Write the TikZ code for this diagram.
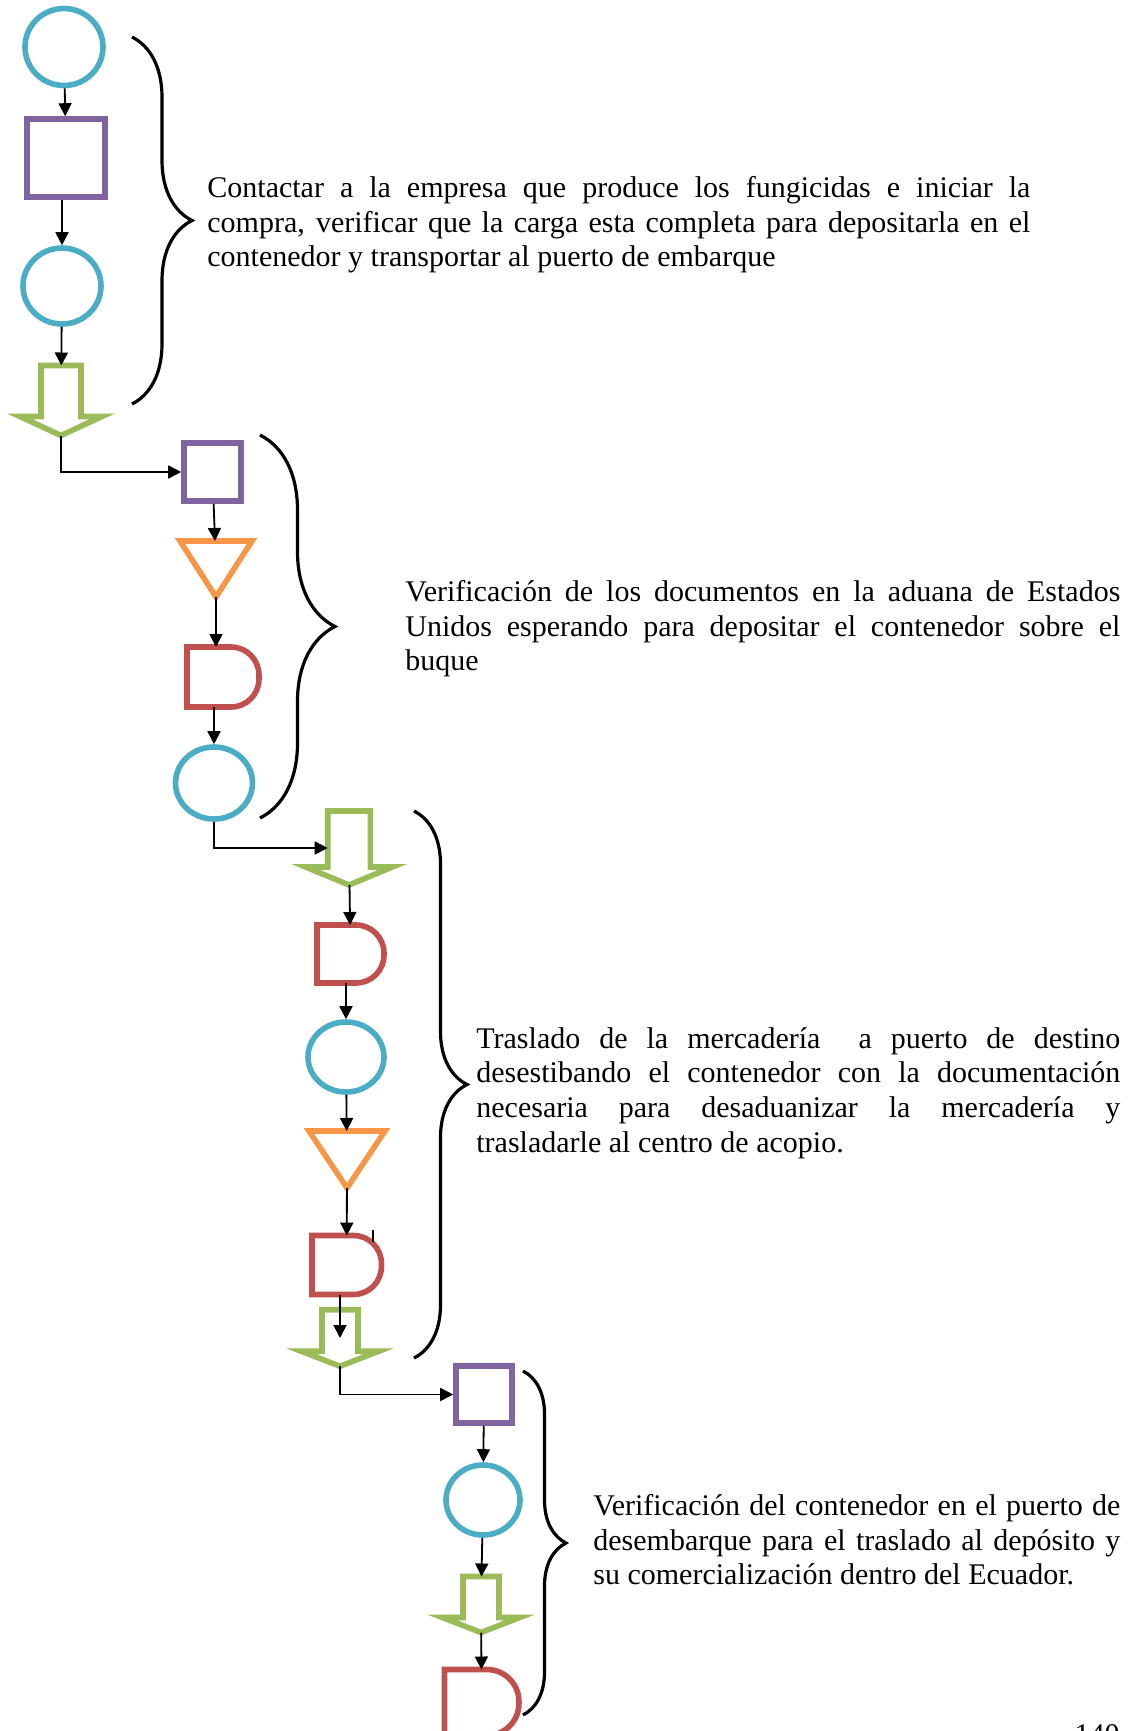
\documentclass[tikz,border=0pt]{standalone}
\usepackage{fontspec}
\setmainfont{Liberation Serif}
\usepackage{tikz}
\usepackage{xcolor}
\usetikzlibrary{decorations.pathreplacing, arrows.meta, shapes.geometric, positioning}

\definecolor{opblue}{HTML}{4BACC6}
\definecolor{insppurple}{HTML}{8064A2}
\definecolor{transgreen}{HTML}{9BBB59}
\definecolor{storeorange}{HTML}{F79646}
\definecolor{delayred}{HTML}{C0504D}

% outlines drawn on the anchors of an empty node
\newcommand{\transarrow}[3]{\draw[trans] (#1.north west) -- (#1.north east)
  -- ([yshift=#3]#1.south east) -- ([xshift=#2,yshift=#3]#1.south east)
  -- (#1.south) -- ([xshift=-#2,yshift=#3]#1.south west)
  -- ([yshift=#3]#1.south west) -- cycle;}
\newcommand{\storetri}[1]{\draw[store] (#1.north west) -- (#1.north east) -- (#1.south) -- cycle;}
\newcommand{\delayd}[2][14pt]{\draw[delay] (#2.north west) [rounded corners=#1] -- (#2.north east)
  -- (#2.south east) [sharp corners] -- (#2.south west) -- cycle;}

\begin{document}
\begin{tikzpicture}[x=0.5pt, y=-0.5pt,
    op/.style={ellipse, draw=opblue, line width=2.8pt, inner sep=0pt},
    insp/.style={rectangle, draw=insppurple, line width=2.8pt, inner sep=0pt},
    hold/.style={rectangle, inner sep=0pt, outer sep=0pt},
    trans/.style={draw=transgreen, line width=2.8pt},
    store/.style={draw=storeorange, line width=2.8pt},
    delay/.style={draw=delayred, line width=2.8pt},
    flow/.style={-{Triangle[length=6.5pt,width=6.5pt]}, line width=0.9pt},
    curly/.style={decorate, decoration={brace, amplitude=#1}, line width=1.6pt},
    note/.style={anchor=west, inner sep=0pt, align=justify, font=\fontsize{15pt}{17.3pt}\selectfont}]
  \useasboundingbox (0,0) rectangle (1129,1731);
  \clip (0,0) rectangle (1129,1731);

  % first group
  \node[op, minimum width=39pt, minimum height=38.5pt] (c1) at (64, 47) {};
  \node[insp, minimum width=39pt, minimum height=39pt] (s1) at (66, 158) {};
  \node[op, minimum width=39pt, minimum height=38pt] (c2) at (62, 286) {};
  \node[hold, minimum width=20pt, minimum height=35pt] (g1) at (61, 400.5) {};
  \transarrow{g1}{10.5pt}{9.5pt}

  % second group
  \node[insp, minimum width=28.5pt, minimum height=29pt] (s2) at (212.5, 472) {};
  \node[hold, minimum width=36pt, minimum height=28pt] (t1) at (216, 569) {};
  \storetri{t1}
  \node[hold, minimum width=36pt, minimum height=30pt] (d1) at (223, 677) {};
  \delayd{d1}
  \node[op, minimum width=38.5pt, minimum height=36pt] (c3) at (214, 783) {};

  % third group
  \node[hold, minimum width=21.3pt, minimum height=37pt] (g2) at (349, 848) {};
  \transarrow{g2}{11pt}{9pt}
  \node[hold, minimum width=33.5pt, minimum height=29pt] (d2) at (350.5, 954) {};
  \delayd{d2}
  \node[op, minimum width=38pt, minimum height=35pt] (c4) at (346, 1057) {};
  \node[hold, minimum width=38pt, minimum height=28.5pt] (t2) at (347, 1159.5) {};
  \storetri{t2}
  \node[hold, minimum width=34.75pt, minimum height=29.5pt] (d3) at (346.7, 1265) {};
  \delayd{d3}
  \draw[line width=0.8pt] (372.7, 1230) -- (372.7, 1242);
  \node[hold, minimum width=18pt, minimum height=28.25pt] (g3) at (340, 1338) {};
  \transarrow{g3}{10.3pt}{7.5pt}

  % fourth group
  \node[insp, minimum width=28pt, minimum height=28.5pt] (s4) at (484, 1394.5) {};
  \node[op, minimum width=37pt, minimum height=35pt] (c5) at (483, 1500) {};
  \node[hold, minimum width=18pt, minimum height=28pt] (g4) at (481, 1604.5) {};
  \transarrow{g4}{10.3pt}{7.5pt}
  \node[hold, minimum width=37.25pt, minimum height=33pt] (d4) at (481.7, 1702.5) {};
  \delayd[16pt]{d4}

  \draw
  (c1) edge[flow] (s1)
  (s1.south -| c2) edge[flow] (c2)
  (c2) edge[flow] (g1)
  (s2) edge[flow] (t1)
  (t1.south) edge[flow] (t1 |- d1.north)
  (d1.south -| c3) edge[flow] (c3)
  (g2) edge[flow] (d2)
  (d2.south -| c4) edge[flow] (c4)
  (c4) edge[flow] (t2)
  (t2) edge[flow] (d3)
  (d3.south -| g3) edge[flow] (g3.center)
  (s4) edge[flow] (c5)
  (c5) edge[flow] (g4)
  (g4) edge[flow] (d4);
  \draw[flow] (g1.south) |- (s2);
  \draw[flow] (c3.south) |- (g2);
  \draw[flow] (g3.south) |- (s4);

  % braces and texts
  \draw[curly=30pt] (132, 37) -- (132, 404);
  \draw[curly=37.5pt] (260, 435) -- (260, 818);
  \draw[curly=26.5pt] (414, 811) -- (414, 1358);
  \draw[curly=21.5pt] (523, 1371) -- (523, 1715);

  \node[note, text width=411.5pt] (txt1) at (207, 225) {Contactar a la empresa que produce los fungicidas e iniciar la\linebreak compra, verificar que la carga esta completa para depositarla en el\linebreak contenedor y transportar al puerto de embarque};
  \node[note, text width=357.5pt] (txt2) at (405, 629) {Verificación de los documentos en la aduana de Estados\linebreak Unidos esperando para depositar el contenedor sobre el\linebreak buque};
  \node[note, text width=322pt] (txt3) at (476, 1093) {Traslado de la mercadería \ a puerto de destino\linebreak desestibando el contenedor con la documentación\linebreak necesaria para desaduanizar la mercadería y\linebreak trasladarle al centro de acopio.};
  \node[note, text width=263.5pt] (txt4) at (593, 1540) {Verificación del contenedor en el puerto de\linebreak desembarque para el traslado al depósito y\linebreak su comercialización dentro del Ecuador.};
  \node[anchor=north east, inner sep=0pt, font=\fontsize{15pt}{17.3pt}\selectfont] (pg) at (1120, 1724) {140};
\end{tikzpicture}
\end{document}
